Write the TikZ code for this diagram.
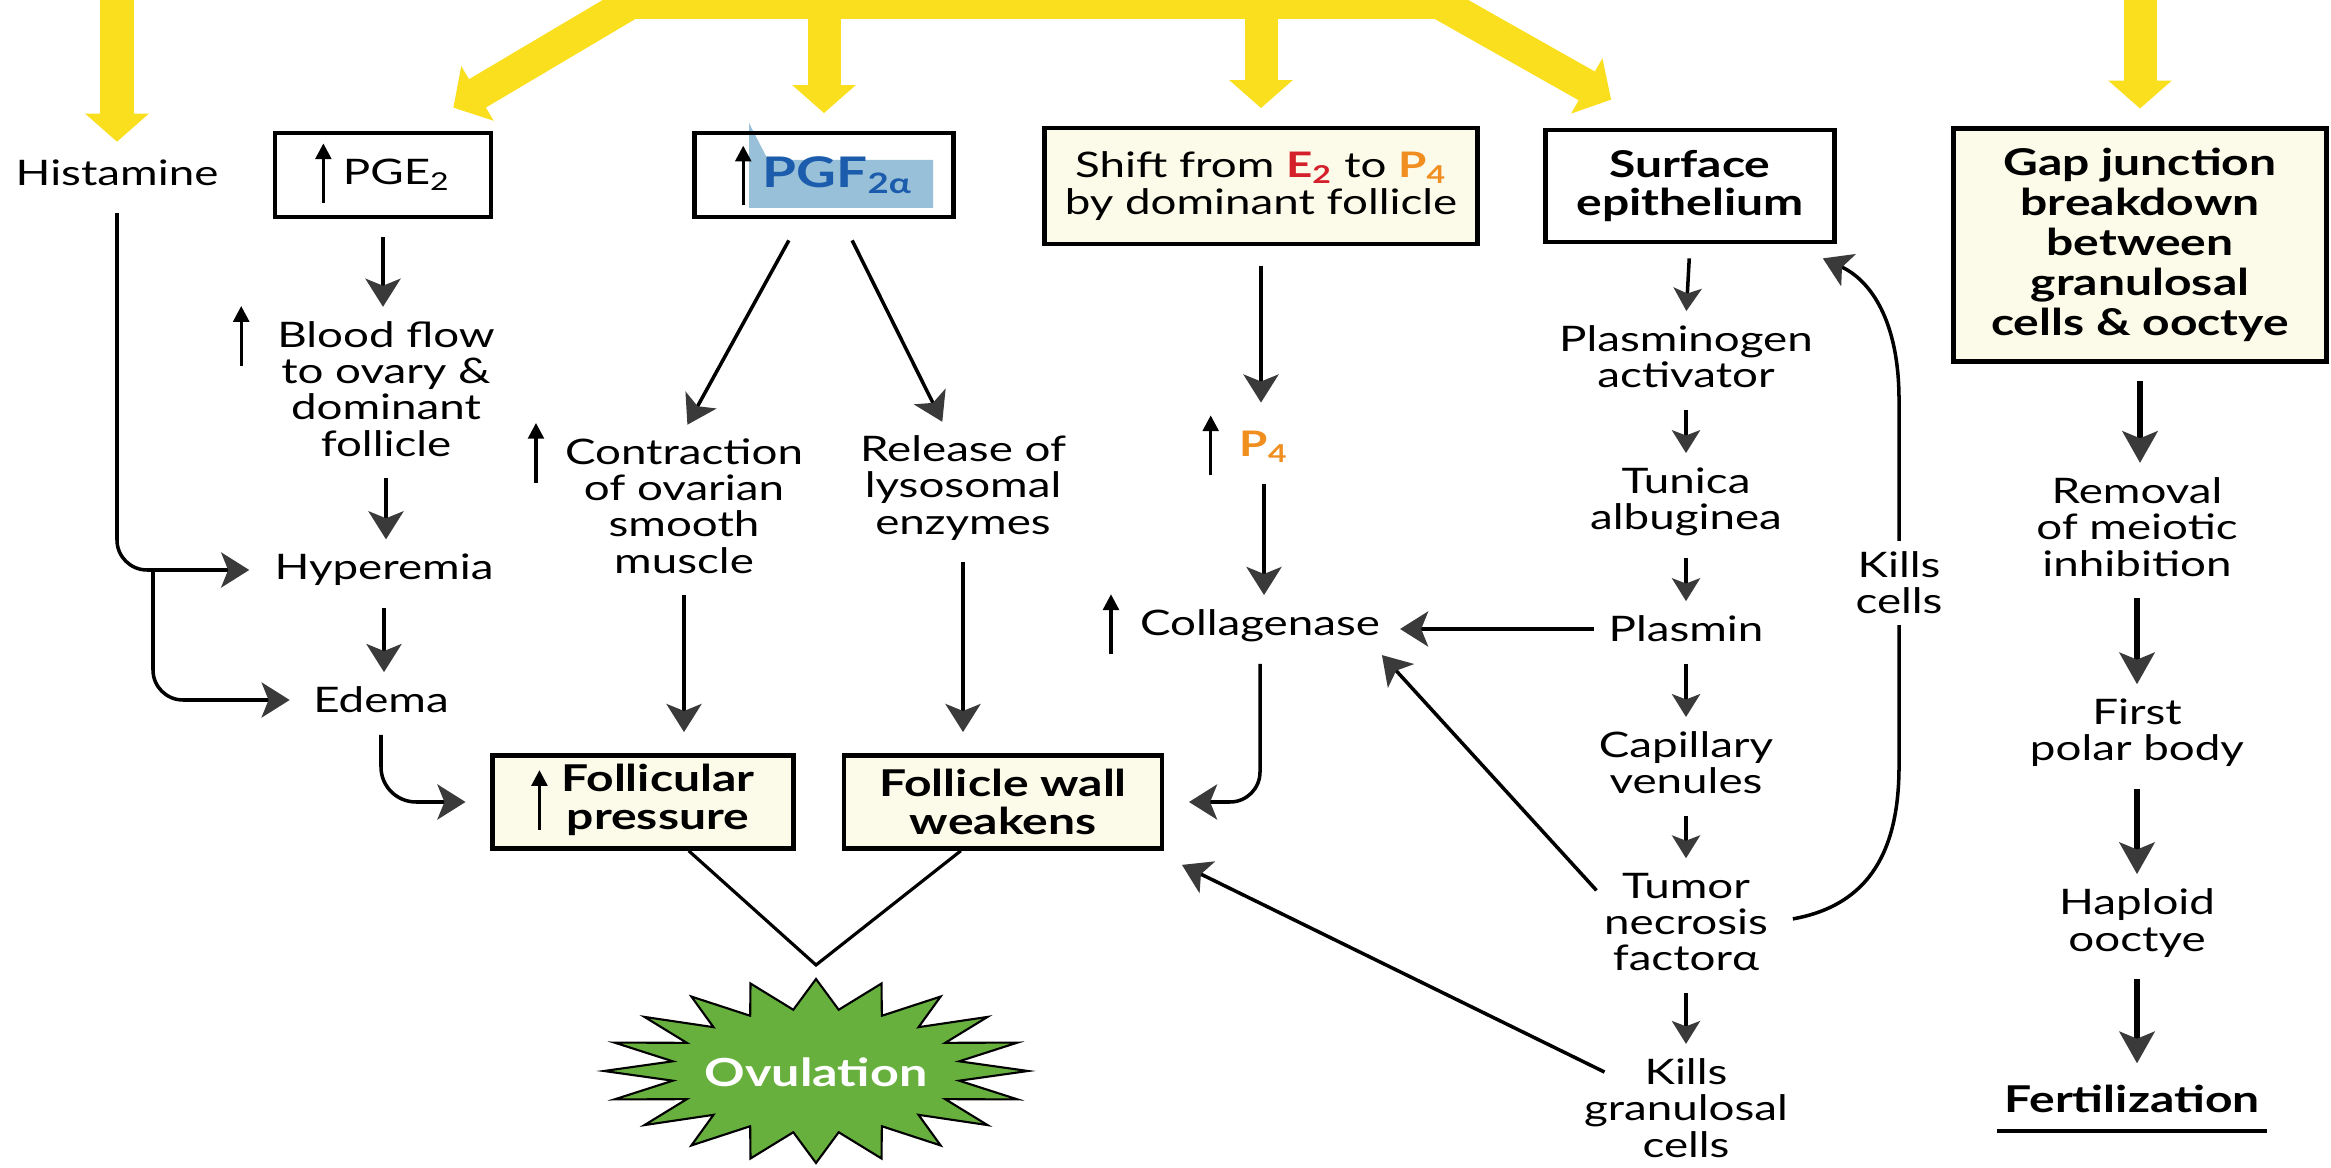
\documentclass[tikz,border=0pt]{standalone}
\usepackage{fontspec}
\setmainfont{Lato}[FakeStretch=1.3]
\usetikzlibrary{arrows.meta,calc}
\AtBeginDocument{\fontsize{10}{10.3}\selectfont}

\definecolor{sunyellow}{RGB}{250,223,30}
\definecolor{boxcream}{RGB}{252,251,233}
\definecolor{pgfblue}{RGB}{28,92,172}
\definecolor{pgfshade}{RGB}{152,192,216}
\definecolor{estred}{RGB}{212,32,42}
\definecolor{progorange}{RGB}{240,142,32}
\definecolor{stargreen}{RGB}{104,176,62}
\definecolor{headgray}{RGB}{58,58,58}

\tikzset{
  uparrow/.style={line width=0.9pt,-{Triangle[length=4.5pt,width=4.5pt]}},
  box/.style={draw, line width=1.3pt, fill=boxcream, font=\fontsize{10.5}{10.8}\selectfont\bfseries},
  plainbox/.style={box, fill=white, font=\normalfont},
  arr/.style={line width=1pt, -{Stealth[length=8pt,width=10pt,inset=2pt,color=headgray]}, shorten <=4pt, shorten >=2pt},
  smallarr/.style={arr, -{Stealth[length=6.5pt,width=8pt,inset=1.5pt,color=headgray]}},
  bigarr/.style={arr, line width=1.6pt, -{Stealth[length=9pt,width=10pt,inset=2pt,color=headgray]}},
  sunarrow/.style={draw=sunyellow, line width=0.33cm, line cap=round, -{Triangle[length=0.28cm,width=0.62cm]}, shorten >=5pt},
}

\newcommand{\upar}{\smash{\tikz[baseline={([yshift=-3.3pt]current bounding box.center)}]\draw[uparrow] (0pt,0pt) -- (0pt,17pt);}}

\begin{document}
\begin{tikzpicture}[x=0.01cm, y=-0.01cm, inner sep=2pt]
\useasboundingbox (0,0) rectangle (2331,1168);

% top row
\node (hist) at (117,173) {Histamine};
\node[plainbox, minimum width=2.16cm, minimum height=0.84cm] (pge) at (383,175) {\upar\ PGE\textsubscript{2}};
\fill[pgfshade] (749,123) -- (768,160) -- (933,160) -- (933,208) -- (749,208) -- cycle;
\node[plainbox, fill=none, minimum width=2.59cm, minimum height=0.84cm] (pgf) at (824,175) {\upar\ {\fontsize{12}{12}\selectfont\bfseries\color{pgfblue}PGF\textsubscript{2α}}};
\node[box, font=\normalfont, align=center, minimum width=4.33cm, minimum height=1.16cm] (shift) at (1261,186) {Shift from {\bfseries\color{estred}E\textsubscript{2}} to {\bfseries\color{progorange}P\textsubscript{4}}\\by dominant follicle};
\node[plainbox, font=\fontsize{10.5}{10.8}\selectfont\bfseries, align=center, minimum width=2.89cm, minimum height=1.12cm] (surf) at (1690,186) {Surface\\epithelium};
\node[box, font=\fontsize{10.5}{11.4}\selectfont\bfseries, align=center, minimum width=3.73cm, minimum height=2.33cm] (gap) at (2140,245) {Gap junction\\breakdown\\between\\granulosal\\cells \& ooctye};

% left columns
\node[align=center] (blood) at (386,389) {\llap{\upar\hspace{8pt}}Blood flow\\to ovary \&\\dominant\\follicle};
\node (hyper) at (384,570) {Hyperemia};
\node (edema) at (381,700) {Edema};
\node[align=center] (contr) at (684,506) {\llap{\upar\hspace{6pt}}Contraction\\of ovarian\\smooth\\muscle};
\node[align=center] (release) at (963,488) {Release of\\lysosomal\\enzymes};
\node (p4) at (1264,447) {\llap{\upar\hspace{6pt}}{\bfseries\color{progorange}P\textsubscript{4}}};
\node (collag) at (1260,626) {\llap{\upar\hspace{6pt}}Collagenase};

\node[box, minimum width=3.01cm, minimum height=0.93cm] (folpr) at (643,802) {\upar\hspace{4pt}\begin{tabular}{@{}c@{}}Follicular\\pressure\end{tabular}};
\node[box, align=center, minimum width=3.18cm, minimum height=0.93cm] (folwall) at (1003,802) {Follicle wall\\weakens};

% ovulation star
\filldraw[fill=stargreen, draw=black, line width=0.6pt, shift={(816,1071)}]
  plot[samples at={0,...,39}] ({ifthenelse(mod(\x,2)==0,212,145)*cos(\x*9)}, {ifthenelse(mod(\x,2)==0,92,62)*sin(\x*9)}) -- cycle;
\node[text=white, font=\fontsize{11}{11}\selectfont\bfseries] (ovul) at (816,1072) {Ovulation};
\coordinate (vtx) at (816,965);

% surface column
\node[align=center] (plasact) at (1686,357) {Plasminogen\\activator};
\node[align=center] (tunica) at (1686,502) {Tunica\\albuginea};
\node (plasmin) at (1686,629) {Plasmin};
\node[align=center] (capil) at (1686,763) {Capillary\\venules};
\node[align=center] (tnf) at (1686,922) {Tumor\\necrosis\\factorα};
\node[align=center] (killgran) at (1686,1108) {Kills\\granulosal\\cells};

% oocyte column
\node[align=center] (removal) at (2137,527) {Removal\\of meiotic\\inhibition};
\node[align=center] (polar) at (2137,733) {First\\polar body};
\node[align=center] (haploid) at (2137,923) {Haploid\\ooctye};
\node[font=\fontsize{10.5}{10.8}\selectfont\bfseries] (fert) at (2132,1099) {Fertilization};
\draw[line width=1.3pt] ([yshift=-3pt]fert.south west) -- ([yshift=-3pt]fert.south east);

% yellow inputs
\coordinate (top) at (0,-20);
\coordinate (bandL) at (630,3);
\coordinate (bandR) at (1440,3);
\draw[sunyellow, line width=0.33cm, line cap=round] (bandL) -- (bandR);
\draw[sunarrow, shorten >=3pt] (hist.north |- top) -- (hist.north);
\draw[sunarrow, shorten >=0pt] (bandL) -- ($(pge.north east)+(-40,-23)$);
\draw[sunarrow] (pgf.north |- bandL) -- (pgf.north);
\draw[sunarrow] (shift.north |- bandL) -- (shift.north);
\draw[sunarrow, shorten >=0pt] (bandR) -- ($(surf.north west)+(68,-28)$);
\draw[sunarrow] (gap.north |- top) -- (gap.north);

% histamine / PGE2
\draw[arr, shorten <=5pt] (pge.south) -- (pge.south |- blood.north);
\draw[arr] (blood.south) -- (blood.south |- hyper.north);
\draw[arr] (hyper.south) -- (hyper.south |- edema.north);
\draw[arr, rounded corners=0.3cm, shorten <=5.5pt, shorten >=5pt] (hist.south) |- (hyper.west);
\coordinate (split) at ($(hist.south |- hyper.west)+(36,0)$);
\draw[arr, rounded corners=0.3cm, shorten <=0pt, shorten >=4.5pt] (split) |- (edema.west);
\draw[arr, rounded corners=0.35cm, shorten >=7pt] (edema.south) |- (folpr.west);

% PGF
\draw[arr, shorten <=0pt] ([xshift=-10pt,yshift=-6pt]pgf.south) -- (contr.north);
\draw[arr, shorten <=0pt] ([xshift=8pt,yshift=-6pt]pgf.south) -- ([xshift=-5pt]release.north);
\draw[arr, shorten >=6pt] (contr.south) -- (contr.south |- folpr.north);
\draw[arr, shorten >=6pt] (release.south) -- (release.south |- folwall.north);

% E2 to P4
\draw[arr, shorten <=5.5pt, shorten >=6pt] (shift.south) -- (shift.south |- p4.north);
\draw[arr] (p4.south) -- (p4.south |- collag.north);
\draw[arr, rounded corners=0.3cm, shorten >=7pt] (collag.south) |- (folwall.east);

% surface epithelium
\draw[smallarr] (surf.south) -- (plasact.north);
\draw[smallarr] (plasact.south) -- (tunica.north);
\draw[smallarr] (tunica.south) -- (plasmin.north);
\draw[smallarr] (plasmin.south) -- (capil.north);
\draw[smallarr] (capil.south) -- (tnf.north);
\draw[smallarr] (tnf.south) -- (killgran.north);
\draw[arr, shorten <=2pt, shorten >=3.5pt] (plasmin.west) -- (plasmin.west -| collag.east);
\draw[arr, shorten <=0pt] ([yshift=9pt]tnf.west) -- ([xshift=-3pt]collag.south east);
\draw[arr, shorten <=0pt, shorten >=0pt] ([xshift=8pt,yshift=-6pt]killgran.north west) -- ([xshift=5pt,yshift=-4pt]folwall.south east);
\draw[arr, shorten <=5pt, shorten >=0pt] (tnf.east) .. controls (1870,905) and (1899,850) .. (1899,766)
  -- node[fill=white, align=center, inner sep=3pt] (kcells) {Kills\\cells} (1899,400)
  .. controls (1899,320) and (1870,280) .. ([xshift=-4pt,yshift=-4pt]surf.south east);

% gap junction
\draw[bigarr, shorten <=5pt] (gap.south) -- (gap.south |- removal.north);
\draw[bigarr] (removal.south) -- (removal.south |- polar.north);
\draw[bigarr] (polar.south) -- (polar.south |- haploid.north);
\draw[bigarr, shorten >=4pt] (haploid.south) -- (haploid.south |- fert.north);

% ovulation
\draw[line width=0.9pt] ([xshift=13pt]folpr.south) -- (vtx) -- ([xshift=-12pt]folwall.south);
\end{tikzpicture}
\end{document}
